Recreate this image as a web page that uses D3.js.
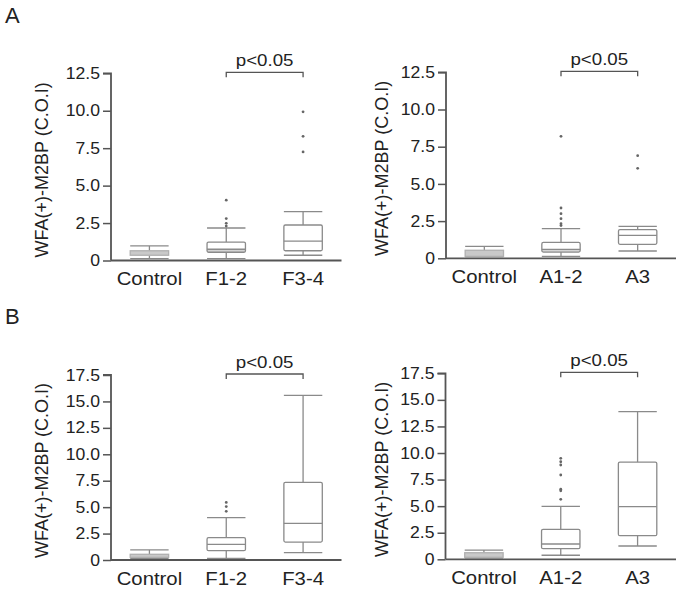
<!DOCTYPE html>
<html>
<head>
<meta charset="utf-8">
<script src="https://cdn.jsdelivr.net/npm/d3@7"></script>
<style>
  html, body { margin: 0; padding: 0; background: #fff; }
  svg { display: block; font-family: "Liberation Sans", Arial, sans-serif; }
</style>
</head>
<body>
<svg id="chart" width="680" height="591"></svg>
<script>
// ---------- data ----------
const panelLabels = ["A", "B"];
const yLabel = "WFA(+)-M2BP (C.O.I)";
const sigText = "p<0.05";

const catsFib = ["Control", "F1-2", "F3-4"];
const catsAct = ["Control", "A1-2", "A3"];

const ticksA = [0, 2.5, 5, 7.5, 10, 12.5];
const ticksB = [0, 2.5, 5, 7.5, 10, 12.5, 15, 17.5];

// box stats: [whiskerLow, q1, median, q3, whiskerHigh]
const boxesAFib = [
  [0.12, 0.35, 0.5, 0.65, 0.97],
  [0.12, 0.55, 0.75, 1.23, 2.17],
  [0.35, 0.65, 1.3, 2.37, 3.26]
];
const outliersAFib = [[], [2.3, 2.48, 2.8, 4.03], [7.25, 8.29, 9.93]];

const boxesAAct = [
  [0.1, 0.13, 0.4, 0.54, 0.8],
  [0.13, 0.42, 0.6, 1.07, 1.99],
  [0.49, 0.94, 1.54, 1.93, 2.15]
];
const outliersAAct = [[], [2.2, 2.33, 2.66, 3.0, 3.38, 8.2], [6.05, 6.9]];

const boxesBFib = [
  [0.15, 0.25, 0.45, 0.54, 0.95],
  [0.16, 0.88, 1.48, 2.11, 4.0],
  [0.7, 1.7, 3.47, 7.35, 15.58]
];
const outliersBFib = [[], [4.6, 5.05, 5.45], []];

const boxesBAct = [
  [0.1, 0.19, 0.4, 0.62, 0.87],
  [0.38, 1.0, 1.44, 2.82, 4.98],
  [1.25, 2.22, 4.95, 9.15, 13.89]
];
const outliersBAct = [[], [5.64, 6.45, 6.6, 7.93, 8.87, 9.18, 9.5], []];

// ---------- layout ----------
const panels = [
  { cats: catsFib, boxes: boxesAFib, outs: outliersAFib, ticks: ticksA, yMax: 12.5,
    x0: 111, x1: 341.5, yBottom: 260.5, yTop: 73.3, labelX: 42 },
  { cats: catsAct, boxes: boxesAAct, outs: outliersAAct, ticks: ticksA, yMax: 12.5,
    x0: 446, x1: 676, yBottom: 258.3, yTop: 72.3, labelX: 382 },
  { cats: catsFib, boxes: boxesBFib, outs: outliersBFib, ticks: ticksB, yMax: 17.5,
    x0: 111, x1: 341.5, yBottom: 560, yTop: 375, labelX: 42 },
  { cats: catsAct, boxes: boxesBAct, outs: outliersBAct, ticks: ticksB, yMax: 17.5,
    x0: 445.5, x1: 676, yBottom: 559.3, yTop: 373.3, labelX: 382 }
];

const svg = d3.select("#chart");
const axisColor = "#555";
const boxColor = "#8a8a8a";
const textColor = "#222";

// stretch text horizontally around its own x anchor (reference text is slightly wide)
function stretch(sel, sx) {
  sel.each(function () {
    const t = d3.select(this);
    const x = +(t.attr("x") || 0);
    const y = +(t.attr("y") || 0);
    t.attr("transform", `translate(${x},${y}) scale(${sx},1) translate(${-x},${-y})`);
  });
}

// panel letters
svg.append("text").attr("x", 5).attr("y", 23).attr("font-size", 22)
  .attr("fill", textColor).text(panelLabels[0]);
svg.append("text").attr("x", 5).attr("y", 324).attr("font-size", 22)
  .attr("fill", textColor).text(panelLabels[1]);

panels.forEach(p => {
  const g = svg.append("g");
  const x = d3.scaleBand().domain(p.cats).range([p.x0, p.x1]).paddingInner(0).paddingOuter(0);
  const y = d3.scaleLinear().domain([0, p.yMax]).range([p.yBottom, p.yTop]);
  const bw = x.bandwidth() * 0.5;

  // y axis
  const yAxis = d3.axisLeft(y).tickValues(p.ticks)
    .tickFormat(d => d === 0 ? "0" : d3.format(".1f")(d))
    .tickSize(8).tickPadding(3);
  const ya = g.append("g").attr("transform", `translate(${p.x0},0)`).call(yAxis);
  ya.select(".domain").attr("stroke", axisColor).attr("stroke-width", 1.8)
    .attr("d", `M-8,${y(p.yMax)}H0V${p.yBottom}`);
  ya.selectAll(".tick line").attr("stroke", axisColor).attr("stroke-width", 1.5);
  const yt = ya.selectAll(".tick text").attr("font-size", 16).attr("fill", textColor)
    .attr("font-family", "Liberation Sans, Arial, sans-serif");
  stretch(yt, 1.1);

  // x axis
  const xAxis = d3.axisBottom(x).tickSize(0).tickPadding(12);
  const xa = g.append("g").attr("transform", `translate(0,${p.yBottom})`).call(xAxis);
  xa.select(".domain").attr("stroke", axisColor).attr("stroke-width", 1.8)
    .attr("d", `M${p.x0},0H${p.x1}`);
  const xt = xa.selectAll(".tick text").attr("font-size", 18).attr("fill", textColor)
    .attr("font-family", "Liberation Sans, Arial, sans-serif");
  stretch(xt, 1.13);

  // y label
  g.append("text")
    .attr("transform", `translate(${p.labelX},${(p.yBottom + p.yTop) / 2 + 3}) rotate(-90)`)
    .attr("text-anchor", "middle").attr("dy", "0.35em")
    .attr("font-size", 18).attr("fill", textColor).text(yLabel);

  // boxes
  p.cats.forEach((c, i) => {
    const [lo, q1, med, q3, hi] = p.boxes[i];
    const cx = x(c) + x.bandwidth() / 2;
    const bg = g.append("g").attr("stroke", boxColor).attr("stroke-width", 1.3).attr("fill", "none");
    // whiskers
    bg.append("line").attr("x1", cx).attr("x2", cx).attr("y1", y(hi)).attr("y2", y(q3));
    bg.append("line").attr("x1", cx).attr("x2", cx).attr("y1", y(q1)).attr("y2", y(lo));
    bg.append("line").attr("x1", cx - bw / 2).attr("x2", cx + bw / 2).attr("y1", y(hi)).attr("y2", y(hi));
    bg.append("line").attr("x1", cx - bw / 2).attr("x2", cx + bw / 2).attr("y1", y(lo)).attr("y2", y(lo));
    // box
    const boxH = y(q1) - y(q3);
    if (boxH < 8) {
      bg.append("rect").attr("x", cx - bw / 2).attr("y", y(q3)).attr("width", bw)
        .attr("height", boxH).attr("fill", "#c9c9c9").attr("stroke", "#b0b0b0");
    } else {
      if (y(q1) - y(med) < 4) {
        bg.append("rect").attr("x", cx - bw / 2).attr("y", y(med)).attr("width", bw)
          .attr("height", y(q1) - y(med)).attr("fill", "#d4d4d4").attr("stroke", "none");
      }
      bg.append("rect").attr("x", cx - bw / 2).attr("y", y(q3)).attr("width", bw)
        .attr("height", boxH).attr("rx", 1.5);
      bg.append("line").attr("x1", cx - bw / 2).attr("x2", cx + bw / 2).attr("y1", y(med)).attr("y2", y(med));
    }
    // outliers
    g.selectAll(null).data(p.outs[i]).enter().append("circle")
      .attr("cx", cx).attr("cy", d => y(d)).attr("r", 1.4).attr("fill", "#666");
  });

  // significance bracket between 2nd and 3rd category
  const bx1 = x(p.cats[1]) + x.bandwidth() / 2;
  const bx2 = x(p.cats[2]) + x.bandwidth() / 2;
  const by = y(p.yMax) - 1;
  g.append("path").attr("d", `M${bx1},${by + 5}V${by}H${bx2}V${by + 5}`)
    .attr("fill", "none").attr("stroke", axisColor).attr("stroke-width", 1.3);
  const st = g.append("text").attr("x", (bx1 + bx2) / 2).attr("y", by - 6)
    .attr("text-anchor", "middle").attr("font-size", 17).attr("fill", textColor).text(sigText);
  stretch(st, 1.1);
});
</script>
</body>
</html>
